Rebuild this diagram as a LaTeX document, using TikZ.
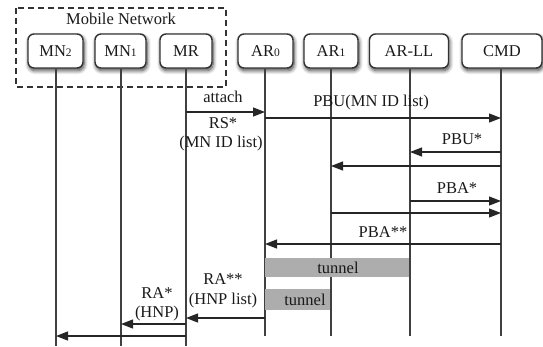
\documentclass[tikz,border=0pt]{standalone}
\usepackage{fontspec}
\setmainfont{Liberation Serif}
\usetikzlibrary{arrows.meta,shadows.blur}
\begin{document}
\begin{tikzpicture}[x=1pt,y=-1pt,
  every node/.style={font=\fontsize{16.5}{18}\selectfont, inner sep=0pt, text=black!90},
  ent/.style={draw=black!80, line width=1.4pt, rounded corners=6pt, fill=white,
    minimum height=34pt, blur shadow={shadow blur steps=8, shadow xshift=1pt, shadow yshift=-2.5pt, shadow opacity=75, shadow blur radius=4pt}},
  life/.style={draw=black!75, line width=1.2pt},
  msg/.style={draw=black!85, line width=1.2pt, -{Triangle[length=12pt,width=9pt]}},
  tun/.style={fill=black!32, draw=none}]
\useasboundingbox (0,0) rectangle (543,346);
\newcommand{\sbs}[1]{{\fontsize{11.5}{11}\selectfont #1}}
% dashed group
\draw[black!80, line width=1.3pt, dash pattern=on 6pt off 4pt] (16,8) rectangle (226,87);
\node (mnet) at (121,19) {Mobile Network};
% entities
\node[ent, minimum width=55pt] (mn2) at (55.5,51) {MN\sbs{2}};
\node[ent, minimum width=51pt] (mn1) at (120.5,51) {MN\sbs{1}};
\node[ent, minimum width=52pt] (mr) at (186,51) {MR};
\node[ent, minimum width=55pt] (ar0) at (265.5,51) {AR\sbs{0}};
\node[ent, minimum width=54pt] (ar1) at (331,51) {AR\sbs{1}};
\node[ent, minimum width=79pt] (arll) at (409,51) {AR-LL};
\node[ent, minimum width=80pt] (cmd) at (502,51) {CMD};
% lifelines
\coordinate (e1) at (56,346);
\coordinate (e2) at (121,346);
\coordinate (e3) at (186,346);
\coordinate (e4) at (265,336);
\coordinate (e5) at (331,336);
\coordinate (e6) at (410,336);
\coordinate (e7) at (501,336);
\draw[life] (mn2.south -| e1) -- (e1);
\draw[life] (mn1.south -| e2) -- (e2);
\draw[life] (mr.south -| e3) -- (e3);
\draw[life] (ar0.south -| e4) -- (e4);
\draw[life] (ar1.south -| e5) -- (e5);
\draw[life] (arll.south -| e6) -- (e6);
\draw[life] (cmd.south -| e7) -- (e7);
% tunnels
\fill[tun] (265,258) rectangle (409,277);
\node (t1) at (338,267.5) {tunnel};
\fill[tun] (265,289) rectangle (330,310);
\node (t2) at (305,299.5) {tunnel};
% messages
\draw[msg] (e3 |- 0,112) -- (e4 |- 0,112);
\node (attach) at (223,97) {attach};
\node (rs) at (223,123) {RS*};
\node (rs2) at (221,144) {(MN ID list)};
\draw[msg] (e4 |- 0,118) -- (e7 |- 0,118);
\node (pbu) at (371,103) {PBU(MN ID list)};
\draw[msg] (e7 |- 0,152) -- (e6 |- 0,152);
\node (pbus) at (462,139) {PBU*};
\draw[msg] (e7 |- 0,166) -- (e5 |- 0,166);
\draw[msg] (e6 |- 0,201) -- (e7 |- 0,201);
\node (pbas) at (457,188) {PBA*};
\draw[msg] (e5 |- 0,213) -- (e7 |- 0,213);
\draw[msg] (e7 |- 0,244) -- (e4 |- 0,244);
\node (pbass) at (383,232) {PBA**};
\draw[msg] (e4 |- 0,318) -- (e3 |- 0,318);
\node (ra2) at (223,279) {RA**};
\node (ra2b) at (223,301) {(HNP list)};
\draw[msg] (e3 |- 0,324) -- (e2 |- 0,324);
\node (ra1) at (157,293) {RA*};
\node (ra1b) at (157,314) {(HNP)};
\draw[msg] (e3 |- 0,336) -- (e1 |- 0,336);
\end{tikzpicture}
\end{document}
